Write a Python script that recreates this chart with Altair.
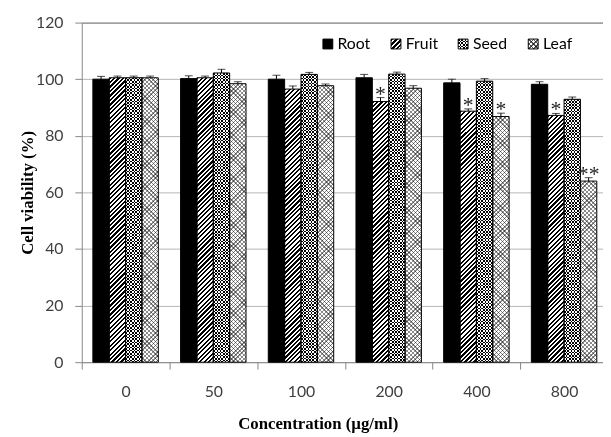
import math
import altair as alt
import pandas as pd

# ---------------- data ----------------
concentrations = ["0", "50", "100", "200", "400", "800"]
extracts = ["Root", "Fruit", "Seed", "Leaf"]

root = [100.0, 100.2, 100.0, 100.5, 98.7, 98.2]
fruit = [100.5, 100.5, 96.5, 92.1, 88.7, 87.2]
seed = [100.5, 102.2, 101.7, 101.8, 99.3, 92.9]
leaf = [100.5, 98.4, 97.7, 96.8, 86.8, 64.0]

root_err = [1.0, 1.0, 1.4, 1.2, 1.3, 0.9]
fruit_err = [0.6, 0.6, 1.1, 1.4, 0.8, 0.7]
seed_err = [0.6, 1.3, 0.7, 0.7, 0.9, 0.8]
leaf_err = [0.6, 0.7, 0.6, 0.9, 1.2, 1.2]

root_sig = ["", "", "", "", "", ""]
fruit_sig = ["", "", "", "*", "*", "*"]
seed_sig = ["", "", "", "", "", ""]
leaf_sig = ["", "", "", "", "*", "**"]

y_ticks = [0, 20, 40, 60, 80, 100, 120]

series = {
    "Root": (root, root_err, root_sig),
    "Fruit": (fruit, fruit_err, fruit_sig),
    "Seed": (seed, seed_err, seed_sig),
    "Leaf": (leaf, leaf_err, leaf_sig),
}

rows = []
for i, c in enumerate(concentrations):
    for name in extracts:
        vals, errs, sigs = series[name]
        rows.append(dict(Concentration=c, Extract=name, Viability=vals[i],
                         Err=errs[i], Upper=vals[i] + errs[i], Sig=sigs[i]))
df = pd.DataFrame(rows)

# ---------------- layout ----------------
PLOT_W = 528
PLOT_H = 344
X_RANGE = 533          # band range (last group partly cropped like the original)
PAD_OUT = 0.68
BAR_W = X_RANGE / 6 / (4 + 2 * PAD_OUT)
PX = PLOT_H / 120.0

FONT = "Lato"
SERIF = "Liberation Serif"
AX_GRAY = "#868686"
LBL = "#404040"


# ---------------- pattern helpers (gradients) ----------------
def grad(x1, y1, x2, y2, n, frac, c_on, c_off):
    stops = []
    k = 0
    while k < n:
        a = k / n
        b = min((k + frac) / n, 1.0)
        e = min((k + 1) / n, 1.0)
        stops.append({"offset": round(a, 5), "color": c_on})
        stops.append({"offset": round(b, 5), "color": c_on})
        if b < 1:
            stops.append({"offset": round(b, 5), "color": c_off})
            stops.append({"offset": round(e, 5), "color": c_off})
        k += 1
    return {"gradient": "linear", "x1": x1, "y1": y1, "x2": x2, "y2": y2, "stops": stops}


def diag(W, H, period, frac, c_on, c_off, rising=True):
    a = (W + H) / (W * W + H * H)
    n = (W + H) / math.sqrt(2) / period
    if rising:
        return grad(0, 0, round(a * W, 5), round(a * H, 5), n, frac, c_on, c_off)
    return grad(0, 1, round(a * W, 5), round(1 - a * H, 5), n, frac, c_on, c_off)


def hstripes(H, cell):
    return grad(0, 0, 0, 1, H / cell, 0.5, "black", "white")


def vstripes(W, cell):
    return grad(0, 0, 1, 0, W / cell, 0.5, "black", "white")


FRUIT_P, FRUIT_F = 3.2, 0.5
SEED_C = 3.3
LEAF_P, LEAF_F, LEAF_C = 3.0, 0.33, "#8a8a8a"

# ---------------- encodings ----------------
x_axis = alt.Axis(
    title="Concentration (µg/ml)", labelAngle=0, tickBand="extent", grid=False,
    domainColor=AX_GRAY, tickColor=AX_GRAY, tickSize=7,
    labelFont=FONT, labelFontSize=16, labelColor=LBL, labelPadding=15,
    titleFont=SERIF, titleFontWeight="bold", titleFontSize=17, titleColor="black",
    titleX=239, titleY=67, titleBaseline="alphabetic", titleAlign="center",
)
y_axis = alt.Axis(
    values=y_ticks, title="Cell viability (%)", grid=True,
    gridColor={"condition": {"test": "datum.value === 120", "value": "#5a5a5a"}, "value": "#b5b5b5"},
    domainColor=AX_GRAY, tickColor=AX_GRAY, tickSize=7,
    labelFont=FONT, labelFontSize=16, labelColor=LBL, labelPadding=12,
    titleFont=SERIF, titleFontWeight="bold", titleFontSize=17, titleColor="black",
    titleX=-50, titleY=PLOT_H / 2, titleAngle=-90, titleBaseline="alphabetic", titleAlign="center",
)
x_scale = alt.Scale(range=[0, X_RANGE], paddingInner=0, paddingOuter=0)
xo_scale = alt.Scale(paddingInner=0, paddingOuter=PAD_OUT)
y_scale = alt.Scale(domain=[0, 120], nice=False)

xenc = alt.X("Concentration:N", sort=concentrations, scale=x_scale, axis=x_axis)
xoenc = alt.XOffset("Extract:N", sort=extracts, scale=xo_scale)


def yenc(field):
    return alt.Y(field, scale=y_scale, axis=y_axis)


base = alt.Chart(df).encode(x=xenc, xOffset=xoenc, y=yenc("Viability:Q"))

layers = []
layers.append(base.mark_bar(fill="black", strokeWidth=0).transform_filter(alt.datum.Extract == "Root"))

for i, c in enumerate(concentrations):
    sel = lambda name: (alt.datum.Extract == name) & (alt.datum.Concentration == c)
    Hf = fruit[i] * PX
    layers.append(base.mark_bar(fill=diag(BAR_W, Hf, FRUIT_P, FRUIT_F, "black", "white"),
                                strokeWidth=0).transform_filter(sel("Fruit")))
    Hs = seed[i] * PX
    layers.append(base.mark_bar(fill=hstripes(Hs, SEED_C), strokeWidth=0).transform_filter(sel("Seed")))
    Hl = leaf[i] * PX
    layers.append(base.mark_bar(fill=diag(BAR_W, Hl, LEAF_P, LEAF_F, LEAF_C, "white", True),
                                strokeWidth=0).transform_filter(sel("Leaf")))
    layers.append(base.mark_bar(fill=diag(BAR_W, Hl, LEAF_P, LEAF_F, LEAF_C, "white", False),
                                strokeWidth=0, blend="multiply").transform_filter(sel("Leaf")))

layers.append(base.mark_bar(fill=vstripes(BAR_W, SEED_C), strokeWidth=0, blend="difference")
              .transform_filter(alt.datum.Extract == "Seed"))

# outlines
layers.append(base.mark_bar(filled=False, stroke="black", strokeWidth=1))

# error bars (upper half only, as in the original)
layers.append(base.mark_rule(color="black", strokeWidth=1).encode(y=yenc("Viability:Q"), y2="Upper:Q"))
layers.append(base.mark_tick(color="black", thickness=1, size=8).encode(y=yenc("Upper:Q")))

# significance stars
layers.append(base.mark_text(font=SERIF, fontSize=22, baseline="alphabetic", dy=3, color="#222222")
              .encode(y=yenc("Upper:Q"), text="Sig:N"))

# ---------------- legend ----------------
one = pd.DataFrame({"k": [0]})
leg_sym_x = [244.3, 313.3, 381.3, 452.3]
leg_txt_x = [259.0, 328.3, 396.3, 467.3]
LEG_Y = 16.7
S = 10


def sym(x0, fill, blend=None):
    kw = dict(fill=fill, strokeWidth=0)
    if blend:
        kw["blend"] = blend
    return alt.Chart(one).mark_rect(**kw).encode(
        x=alt.value(x0), x2=alt.value(x0 + S), y=alt.value(LEG_Y), y2=alt.value(LEG_Y + S))


layers.append(sym(leg_sym_x[0], "black"))
layers.append(sym(leg_sym_x[1], diag(S, S, 3.4, 0.55, "black", "white")))
layers.append(sym(leg_sym_x[2], hstripes(S, SEED_C)))
layers.append(sym(leg_sym_x[2], vstripes(S, SEED_C), "difference"))
layers.append(sym(leg_sym_x[3], diag(S, S, 3.4, 0.3, "#555555", "white", True)))
layers.append(sym(leg_sym_x[3], diag(S, S, 3.4, 0.3, "#555555", "white", False), "multiply"))
for x0 in leg_sym_x:
    layers.append(alt.Chart(one).mark_rect(filled=False, stroke="black", strokeWidth=1).encode(
        x=alt.value(x0), x2=alt.value(x0 + S), y=alt.value(LEG_Y), y2=alt.value(LEG_Y + S)))
for tx, name in zip(leg_txt_x, extracts):
    layers.append(alt.Chart(one).mark_text(align="left", baseline="middle", font=FONT, fontSize=16,
                                           color="black")
                  .encode(x=alt.value(tx), y=alt.value(LEG_Y + S / 2), text=alt.value(name)))

chart = alt.layer(*layers).properties(
    width=PLOT_W, height=PLOT_H,
    autosize=alt.AutoSizeParams(type="none"),
    padding={"left": 74.7, "top": 12, "right": 0, "bottom": 73},
    background="white",
).configure_view(stroke=None)

chart.save("out.html", embed_options={"renderer": "svg", "actions": False})
